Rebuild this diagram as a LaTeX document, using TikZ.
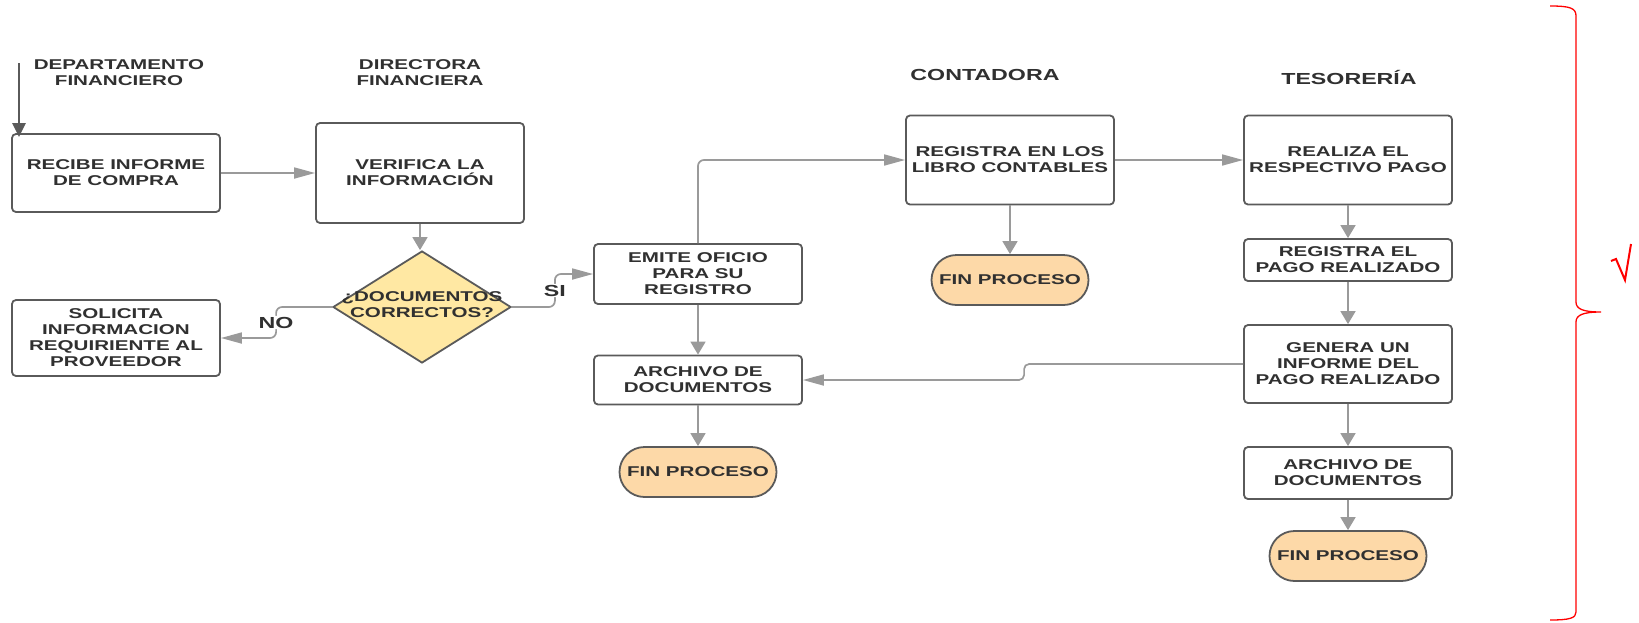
\documentclass[tikz,border=0pt]{standalone}
\usepackage{fontspec}
\newfontfamily\diagfont[FakeStretch=1.45]{Liberation Sans}
\usepackage{tikz}
\usetikzlibrary{arrows.meta, shapes.geometric, shapes.misc, calc}
\definecolor{txtgray}{HTML}{303030}
\definecolor{edgegray}{HTML}{5A5A5A}
\definecolor{linegray}{HTML}{9A9A9A}
\definecolor{decfill}{RGB}{255,232,163}
\definecolor{finfill}{RGB}{253,217,168}
\newcommand{\boxfont}{\diagfont\bfseries\fontsize{14.2pt}{16pt}\selectfont}
\newcommand{\headfont}{\diagfont\bfseries\fontsize{16pt}{18pt}\selectfont}

\begin{document}
\begin{tikzpicture}[
    x=1pt, y=-1pt,
    proc/.style={rectangle, draw=edgegray, line width=1.8pt, rounded corners=4pt, fill=white, text=txtgray, font=\boxfont, align=center, inner sep=0pt, minimum width=208pt},
    decision/.style={diamond, draw=edgegray, line width=1.8pt, fill=decfill, inner sep=0pt, minimum width=178pt, minimum height=112pt},
    finbox/.style={rounded rectangle, draw=edgegray, line width=1.8pt, fill=finfill, text=txtgray, font=\boxfont, inner sep=0pt, minimum width=157pt, minimum height=50pt},
    head/.style={text=txtgray, font=\boxfont, align=center, inner sep=0pt},
    lbl/.style={fill=white, text=txtgray, font=\headfont, inner sep=1pt},
    hconn/.style={draw=linegray, line width=1.7pt, rounded corners=6pt, -{Triangle[length=21pt, width=11pt]}},
    vconn/.style={draw=linegray, line width=1.7pt, -{Triangle[length=13pt, width=15pt]}},
    brace/.style={draw=red, line width=1.3pt},
]
\useasboundingbox (0,0) rectangle (1639,622);

% column titles
\node[head] (hdep) at (119,73) {DEPARTAMENTO\\FINANCIERO};
\node[head] (hdir) at (420,73) {DIRECTORA\\FINANCIERA};
\node[head, font=\headfont] (hcont) at (985,75) {CONTADORA};
\node[head, font=\headfont] (htes) at (1349,77) {TESORERÍA};

\node[proc, minimum height=78pt] (recibe) at (116,173) {RECIBE INFORME\\DE COMPRA};
\node[proc, minimum height=100pt] (verifica) at (420,173) {VERIFICA LA\\INFORMACIÓN};
\node[decision] (dec) at (422,307) {};
\node[head] (dectxt) at (422,305) {¿DOCUMENTOS\\CORRECTOS?};
\node[proc, minimum height=76pt] (solicita) at (116,338) {SOLICITA\\INFORMACION\\REQUIRIENTE AL\\PROVEEDOR};
\node[proc, minimum height=60pt] (emite) at (698,274) {EMITE OFICIO\\PARA SU\\REGISTRO};
\node[proc, minimum height=49pt] (archivoa) at (698,380) {ARCHIVO DE\\DOCUMENTOS};
\node[finbox] (fina) at (698,472) {FIN PROCESO};
\node[proc, minimum height=89pt] (libros) at (1010,160) {REGISTRA EN LOS\\LIBRO CONTABLES};
\node[finbox] (finb) at (1010,280) {FIN PROCESO};
\node[proc, minimum height=89pt] (realiza) at (1348,160) {REALIZA EL\\RESPECTIVO PAGO};
\node[proc, minimum height=42pt] (regpago) at (1348,260) {REGISTRA EL\\PAGO REALIZADO};
\node[proc, minimum height=78pt] (genera) at (1348,364) {GENERA UN\\INFORME DEL\\PAGO REALIZADO};
\node[proc, minimum height=52pt] (archivob) at (1348,473) {ARCHIVO DE\\DOCUMENTOS};
\node[finbox] (finc) at (1348,556) {FIN PROCESO};

% flow
\coordinate (entrada) at (19,63);
\draw[draw=edgegray, line width=2.8pt, shorten >=-4pt, -{Triangle[length=14pt, width=13pt]}] (entrada) -- (entrada |- recibe.north);
\draw[hconn] (recibe.east) -- (verifica.west);
\draw[vconn] (verifica.south) -- (verifica.south |- dec.north);
\draw[hconn] (dec.west) -- ++(-56,0) |- node[lbl, pos=0.25] (nolbl) {NO} (solicita.east);
\draw[hconn] (dec.east) -- ++(43,0) |- node[lbl, pos=0.25] (silbl) {SI} (emite.west);
\draw[hconn] (emite.north) |- (libros.west);
\draw[vconn] (emite.south) -- (archivoa.north);
\draw[vconn] (archivoa.south) -- (fina.north);
\draw[vconn] (libros.south) -- (finb.north);
\draw[hconn] (libros.east) -- (realiza.west);
\draw[vconn] (realiza.south) -- (regpago.north);
\draw[vconn] (regpago.south) -- (genera.north);
\draw[vconn] (genera.south) -- (archivob.north);
\draw[vconn] (archivob.south) -- (finc.north);
\draw[hconn, rounded corners=5pt] (genera.west) -- ++(-219,0) |- (archivoa.east);

% red brace and tick
\draw[brace] (1550,6) .. controls (1570,6) and (1576,8) .. (1576,16) -- (1576,302)
    .. controls (1576,309) and (1583,312) .. (1601,312)
    .. controls (1583,312) and (1576,315) .. (1576,322) -- (1576,612)
    .. controls (1576,618) and (1570,620) .. (1550,620);
\draw[draw=red, line width=2pt] (1611,261) -- (1616,259) -- (1625,280) -- (1631,244);
\end{tikzpicture}
\end{document}
